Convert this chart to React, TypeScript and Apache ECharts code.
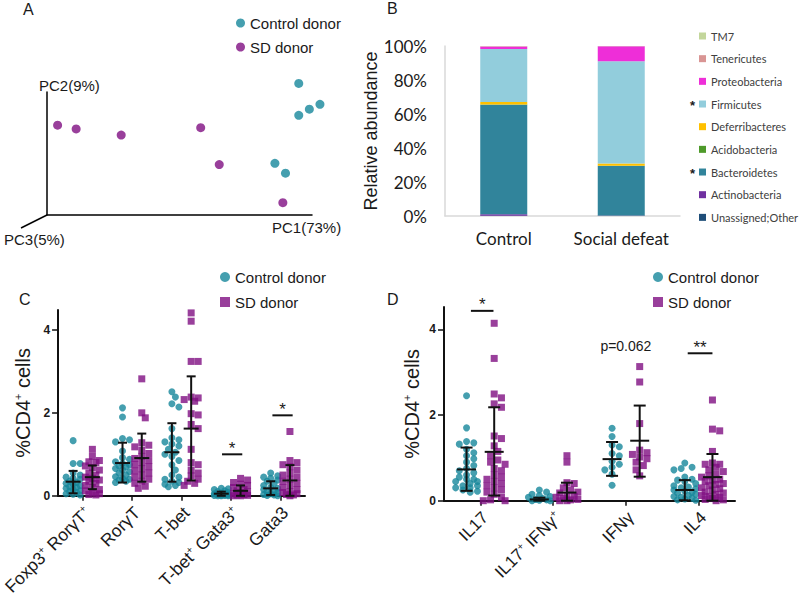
import React, { useEffect, useRef } from "react";
import * as echarts from "echarts";

// ---------------- Panel A : PCoA scores ----------------
const pcaControl: [number, number][] = [
  [0.95, 1.07], [1.03, 0.9], [0.99, 0.86], [0.95, 0.81], [0.86, 0.42], [0.9, 0.34],
];
const pcaSD: [number, number][] = [
  [0.04, 0.73], [0.11, 0.7], [0.28, 0.65], [0.58, 0.71], [0.65, 0.41], [0.89, 0.1],
];
const pcAxisLabels = ["PC1(73%)", "PC2(9%)", "PC3(5%)"];

// ---------------- Panel B : relative abundance ----------------
const groupsB = ["Control", "Social defeat"];
const phyla = [
  "Unassigned;Other", "Actinobacteria", "Bacteroidetes", "Acidobacteria",
  "Deferribacteres", "Firmicutes", "Proteobacteria", "Tenericutes", "TM7",
];
const phylaColors = [
  "#1f4e79", "#7030a0", "#31849b", "#4e9a2a", "#ffc000", "#92cddc", "#ee2ed8", "#d99594", "#c3d69b",
];
const abundanceControl = [0.2, 0.8, 64.5, 0.1, 1.5, 31.2, 1.4, 0.2, 0.1];
const abundanceSD = [0.1, 0.2, 29.1, 0.1, 1.4, 60.1, 8.8, 0.1, 0.1];
const starredPhyla = ["Firmicutes", "Bacteroidetes"];

// ---------------- Panel C : transcription factors ----------------
const catsC = ["Foxp3+ RorγT+", "RorγT", "T-bet", "T-bet+ Gata3+", "Gata3"];
const ctrlC: number[][] = [
  [1.33, 0.78, 0.78, 0.55, 0.5, 0.45, 0.42, 0.4, 0.35, 0.32, 0.3, 0.28, 0.25, 0.22, 0.2, 0.18, 0.15, 0.12, 0.1, 0.08, 0.05, 0.04, 0.02],
  [2.12, 1.9, 1.38, 1.35, 1.3, 1.08, 0.92, 0.88, 0.82, 0.78, 0.75, 0.72, 0.7, 0.66, 0.62, 0.58, 0.55, 0.5, 0.46, 0.42, 0.4, 0.38, 0.35, 0.32],
  [2.51, 2.38, 2.22, 2.14, 1.62, 1.4, 1.35, 1.3, 1.25, 1.2, 1.12, 1.05, 1.0, 0.95, 0.85, 0.75, 0.62, 0.5, 0.45, 0.4, 0.35, 0.32, 0.28, 0.25, 0.22],
  [0.18, 0.17, 0.15, 0.12, 0.1, 0.08, 0.06, 0.05, 0.04, 0.03, 0.02, 0.02, 0.01, 0.01, 0.0, 0.0, 0.0],
  [0.55, 0.48, 0.45, 0.42, 0.38, 0.35, 0.3, 0.25, 0.2, 0.18, 0.15, 0.12, 0.1, 0.08, 0.05, 0.03, 0.02, 0.01, 0.0],
];
const sdC: number[][] = [
  [1.12, 0.95, 0.85, 0.82, 0.8, 0.72, 0.68, 0.62, 0.55, 0.5, 0.45, 0.42, 0.38, 0.35, 0.3, 0.25, 0.2, 0.15, 0.12, 0.08, 0.05, 0.03, 0.02],
  [2.82, 2.0, 1.88, 1.28, 1.22, 1.18, 1.1, 1.02, 0.95, 0.9, 0.85, 0.8, 0.75, 0.7, 0.65, 0.6, 0.55, 0.5, 0.45, 0.4, 0.35, 0.3, 0.23, 0.18],
  [4.41, 4.21, 3.24, 3.24, 2.38, 2.36, 2.32, 2.28, 1.98, 1.95, 1.72, 1.62, 1.12, 0.8, 0.75, 0.62, 0.55, 0.48, 0.4, 0.35, 0.3, 0.25],
  [0.42, 0.38, 0.32, 0.28, 0.25, 0.2, 0.15, 0.12, 0.1, 0.08, 0.05, 0.03, 0.02, 0.01, 0.0, 0.0],
  [1.55, 0.85, 0.8, 0.75, 0.7, 0.62, 0.55, 0.5, 0.45, 0.4, 0.35, 0.3, 0.25, 0.2, 0.15, 0.1, 0.08, 0.05, 0.03, 0.02, 0.0],
];
// [low, mean, high] (mean ± SD)
const ctrlStatsC = [[0.06, 0.34, 0.6], [0.32, 0.79, 1.28], [0.34, 1.05, 1.75], [0.0, 0.05, 0.1], [0.02, 0.18, 0.35]];
const sdStatsC = [[0.16, 0.45, 0.73], [0.34, 0.91, 1.5], [0.37, 1.62, 2.88], [0.0, 0.12, 0.25], [0.0, 0.37, 0.74]];
const sigC = [
  { from: 2.82, to: 3.23, y: 1.0, label: "*" },
  { from: 3.84, to: 4.25, y: 1.94, label: "*" },
];

// ---------------- Panel D : cytokines ----------------
const catsD = ["IL17", "IL17+ IFNγ+", "IFNγ", "IL4"];
const ctrlD: number[][] = [
  [2.45, 1.7, 1.38, 1.35, 1.32, 1.2, 1.12, 1.05, 0.98, 0.9, 0.82, 0.75, 0.7, 0.65, 0.6, 0.55, 0.5, 0.5, 0.45, 0.45, 0.4, 0.35, 0.35, 0.3, 0.3, 0.25, 0.22, 0.2],
  [0.25, 0.2, 0.15, 0.12, 0.1, 0.08, 0.05, 0.03, 0.02, 0.01, 0.0, 0.0],
  [1.69, 1.5, 1.3, 1.26, 1.1, 1.05, 0.92, 0.85, 0.78, 0.72, 0.62, 0.36],
  [0.88, 0.78, 0.75, 0.72, 0.55, 0.5, 0.48, 0.45, 0.4, 0.35, 0.32, 0.3, 0.28, 0.25, 0.22, 0.2, 0.18, 0.15, 0.12, 0.1, 0.08, 0.06, 0.04, 0.02, 0.01],
];
const sdD: number[][] = [
  [4.14, 3.32, 2.49, 2.4, 2.26, 2.18, 1.51, 1.45, 1.28, 1.15, 1.05, 0.95, 0.9, 0.85, 0.75, 0.7, 0.6, 0.55, 0.5, 0.45, 0.4, 0.35, 0.3, 0.25, 0.2, 0.15, 0.08, 0.02, 0.0, 0.0],
  [1.05, 0.9, 0.42, 0.4, 0.3, 0.25, 0.2, 0.18, 0.12, 0.1, 0.08, 0.05, 0.03, 0.02, 0.0, 0.0],
  [3.13, 2.77, 1.8, 1.18, 1.12, 1.08, 1.02, 0.98, 0.9, 0.82, 0.72, 0.58],
  [2.35, 1.67, 1.63, 1.15, 0.88, 0.85, 0.85, 0.78, 0.72, 0.68, 0.62, 0.58, 0.55, 0.5, 0.48, 0.45, 0.4, 0.38, 0.35, 0.3, 0.28, 0.25, 0.2, 0.18, 0.15, 0.12, 0.1, 0.08, 0.05, 0.03, 0.02, 0.0],
];
const ctrlStatsD = [[0.23, 0.73, 1.24], [0.0, 0.03, 0.07], [0.58, 0.97, 1.37], [0.01, 0.25, 0.48]];
const sdStatsD = [[0.12, 1.14, 2.18], [0.0, 0.19, 0.42], [0.56, 1.4, 2.22], [0.0, 0.55, 1.09]];
const sigD = [
  { from: -0.13, to: 0.18, y: 4.43, label: "*" },
  { from: 2, to: 2, y: 3.47, label: "p=0.062" },
  { from: 2.85, to: 3.19, y: 3.44, label: "**" },
];
const yTicksCD = [0, 2, 4];

// ---------------- styling ----------------
const FONT = "'Liberation Sans', Arial, sans-serif";
const FONT_B = "Lato, 'Liberation Sans', sans-serif";
const TEAL = "#16879b";
const PURPLE = "#7f0f82";
const INK = "#1a1a1a";

// beeswarm-like horizontal spread (layout only, values untouched)
function swarmOffsets(vals: number[], pxPerY: number, diam: number, maxHalf: number): number[] {
  const idx = vals.map((_, i) => i).sort((a, b) => vals[b] - vals[a]);
  const placed: { x: number; y: number }[] = [];
  const out = new Array(vals.length).fill(0);
  const step = diam * 0.55;
  for (const i of idx) {
    const y = vals[i] * pxPerY;
    let bestX = 0;
    let bestD = -1;
    for (let k = 0; k < 60; k++) {
      const c = k === 0 ? 0 : (k % 2 ? 1 : -1) * Math.ceil(k / 2) * step;
      if (Math.abs(c) > maxHalf) break;
      let minD = Infinity;
      for (const p of placed) minD = Math.min(minD, Math.hypot(p.x - c, p.y - y));
      if (minD >= diam * 0.9) {
        bestX = c;
        break;
      }
      if (minD > bestD) {
        bestD = minD;
        bestX = c;
      }
    }
    placed.push({ x: bestX, y });
    out[i] = bestX;
  }
  return out;
}

function buildPoints(groups: number[][], side: number, pxPerY: number, pxPerCat: number, maxHalf: number) {
  const out: [number, number][] = [];
  groups.forEach((vals, g) => {
    const offs = swarmOffsets(vals, pxPerY, 6.6, maxHalf);
    vals.forEach((v, i) => out.push([g + side + offs[i] / pxPerCat, v]));
  });
  return out;
}

function errorSeries(stats: number[][], side: number, xIdx: number, yIdx: number, cap: number, meanW: number) {
  return {
    type: "custom",
    name: "sd",
    xAxisIndex: xIdx,
    yAxisIndex: yIdx,
    z: 5,
    silent: true,
    data: stats.map((s, g) => [g + side, s[0], s[1], s[2]]),
    renderItem: (_p: any, api: any) => {
      const x = api.value(0);
      const lo = api.coord([x, api.value(1)]);
      const m = api.coord([x, api.value(2)]);
      const hi = api.coord([x, api.value(3)]);
      const st = { stroke: "#111", lineWidth: 2 };
      return {
        type: "group",
        children: [
          { type: "line", shape: { x1: lo[0], y1: lo[1], x2: hi[0], y2: hi[1] }, style: st },
          { type: "line", shape: { x1: hi[0] - cap / 2, y1: hi[1], x2: hi[0] + cap / 2, y2: hi[1] }, style: st },
          { type: "line", shape: { x1: lo[0] - cap / 2, y1: lo[1], x2: lo[0] + cap / 2, y2: lo[1] }, style: st },
          { type: "line", shape: { x1: m[0] - meanW / 2, y1: m[1], x2: m[0] + meanW / 2, y2: m[1] }, style: st },
        ],
      };
    },
  };
}

function sigSeries(items: { from: number; to: number; y: number; label: string }[], xIdx: number, yIdx: number) {
  return {
    type: "custom",
    name: "sig",
    xAxisIndex: xIdx,
    yAxisIndex: yIdx,
    z: 6,
    silent: true,
    data: items.map((s) => [s.from, s.to, s.y]),
    renderItem: (p: any, api: any) => {
      const it = items[p.dataIndex];
      const a = api.coord([api.value(0), api.value(2)]);
      const b = api.coord([api.value(1), api.value(2)]);
      const isStar = it.label.indexOf("*") >= 0;
      const children: any[] = [];
      if (b[0] - a[0] > 1) {
        children.push({ type: "line", shape: { x1: a[0], y1: a[1], x2: b[0], y2: b[1] }, style: { stroke: "#111", lineWidth: 2 } });
      }
      children.push({
        type: "text",
        x: (a[0] + b[0]) / 2,
        y: a[1] - 6,
        style: {
          text: it.label,
          align: "center",
          verticalAlign: "middle",
          fontSize: isStar ? 17 : 14,
          fontFamily: FONT,
          fill: INK,
        },
      });
      return { type: "group", children };
    },
  };
}

const supFormatter = (v: string) => v.replace(/\+/g, "{s|+}");

export default function App() {
  const ref = useRef<HTMLDivElement>(null);
  useEffect(() => {
    if (!ref.current) return;
    const chart = echarts.init(ref.current, null, { renderer: "svg" });

    const pxYC = 42.75;
    const pxCatC = 51.2;
    const pxYD = 42.85;
    const pxCatD = 72.75;
    const sideC = 0.195;
    const sideD = 0.19;

    const cdYAxis = (grid: number, max: number, gap: number) => ({
      gridIndex: grid,
      type: "value",
      min: 0,
      max,
      axisLine: { show: true, onZero: false, lineStyle: { color: "#111", width: 2 } },
      axisTick: { show: true, length: 6, customValues: yTicksCD, lineStyle: { color: "#111", width: 1.5 } },
      axisLabel: { customValues: yTicksCD, fontFamily: FONT, fontSize: 12, fontWeight: "bold", color: INK, margin: 8 },
      splitLine: { show: false },
      name: "%CD4{s|+} cells",
      nameLocation: "middle",
      nameGap: gap,
      nameTextStyle: {
        fontFamily: FONT,
        fontSize: 20,
        color: INK,
        rich: { s: { fontFamily: FONT, fontSize: 11, color: INK, padding: [0, 0, 10, 0] } },
      },
    });

    const catAxis = (grid: number, data: string[], fs: number) => ({
      gridIndex: grid,
      type: "category",
      data,
      axisLine: { show: true, onZero: false, lineStyle: { color: "#111", width: 2 } },
      axisTick: { show: true, alignWithLabel: true, length: 5, lineStyle: { color: "#111", width: 1.5 } },
      axisLabel: {
        rotate: 45,
        interval: 0,
        margin: 9,
        fontFamily: FONT,
        fontSize: fs,
        color: INK,
        padding: [14, 0, 0, 0],
        formatter: supFormatter,
        rich: { s: { fontFamily: FONT, fontSize: 10, color: INK, padding: [0, 0, 9, 0] } },
      },
    });

    const hiddenValX = (grid: number, min: number, max: number) => ({
      gridIndex: grid,
      type: "value",
      min,
      max,
      show: false,
    });

    const legendText = { fontFamily: FONT, fontSize: 15, color: INK, lineHeight: 16 };

    const option: any = {
      animation: false,
      backgroundColor: "#ffffff",
      grid: [
        { left: 47, top: 92, width: 265, height: 123 },
        { left: 445, top: 46, width: 235, height: 170 },
        { left: 49, top: 310, width: 256, height: 191.7 },
        { left: 444, top: 307, width: 291, height: 193.7 },
      ],
      legend: [
        {
          data: [
            { name: "Control donor", icon: "circle" },
            { name: "SD donor", icon: "circle" },
          ],
          orient: "vertical",
          left: 236,
          top: 15,
          padding: 0,
          itemWidth: 9,
          itemHeight: 9,
          itemGap: 8,
          selectedMode: false,
          textStyle: legendText,
        },
        {
          data: phyla.slice().reverse().map((n) => ({ name: n, icon: "rect" })),
          orient: "vertical",
          left: 699,
          top: 29.5,
          padding: 0,
          itemWidth: 7,
          itemHeight: 7,
          itemGap: 9.67,
          selectedMode: false,
          textStyle: { fontFamily: FONT_B, fontSize: 11, color: "#404040", lineHeight: 13 },
        },
        {
          data: [
            { name: "Control donor", icon: "circle" },
            { name: "SD donor", icon: "rect" },
          ],
          orient: "vertical",
          left: 220,
          top: 269,
          padding: 0,
          itemWidth: 10,
          itemHeight: 10,
          itemGap: 9,
          selectedMode: false,
          textStyle: legendText,
        },
        {
          data: [
            { name: "Control donor", icon: "circle" },
            { name: "SD donor", icon: "rect" },
          ],
          orient: "vertical",
          left: 653,
          top: 269,
          padding: 0,
          itemWidth: 10,
          itemHeight: 10,
          itemGap: 9,
          selectedMode: false,
          textStyle: legendText,
        },
      ],
      xAxis: [
        {
          gridIndex: 0,
          type: "value",
          min: 0,
          max: 1,
          axisLine: { show: true, onZero: false, lineStyle: { color: "#000", width: 1.5 } },
          axisTick: { show: false },
          axisLabel: { show: false },
          splitLine: { show: false },
        },
        {
          gridIndex: 1,
          type: "category",
          data: groupsB,
          axisLine: { show: true, lineStyle: { color: "#d9d9d9", width: 1.5 } },
          axisTick: { show: false },
          axisLabel: { interval: 0, fontFamily: FONT_B, fontSize: 17, color: INK, margin: 14 },
        },
        catAxis(2, catsC, 17.5),
        hiddenValX(2, -0.5, 4.5),
        catAxis(3, catsD, 17),
        hiddenValX(3, -0.5, 3.5),
      ],
      yAxis: [
        {
          gridIndex: 0,
          type: "value",
          min: 0,
          max: 1,
          axisLine: { show: true, onZero: false, lineStyle: { color: "#000", width: 1.5 } },
          axisTick: { show: false },
          axisLabel: { show: false },
          splitLine: { show: false },
        },
        {
          gridIndex: 1,
          type: "value",
          min: 0,
          max: 100,
          interval: 20,
          axisLine: { show: true, lineStyle: { color: "#d9d9d9", width: 1.5 } },
          axisTick: { show: false },
          splitLine: { show: false },
          axisLabel: { formatter: "{value}%", fontFamily: FONT_B, fontSize: 17, color: INK, margin: 18 },
          name: "Relative abundance",
          nameLocation: "middle",
          nameGap: 43,
          nameTextStyle: { fontFamily: FONT, fontSize: 18, color: INK },
        },
        cdYAxis(2, 4.48, 25),
        cdYAxis(3, 4.52, 22),
      ],
      series: [
        // Panel A
        {
          type: "scatter",
          name: "Control donor",
          xAxisIndex: 0,
          yAxisIndex: 0,
          clip: false,
          symbol: "circle",
          symbolSize: 9,
          itemStyle: { color: TEAL },
          data: pcaControl,
        },
        {
          type: "scatter",
          name: "SD donor",
          xAxisIndex: 0,
          yAxisIndex: 0,
          clip: false,
          symbol: "circle",
          symbolSize: 9,
          itemStyle: { color: PURPLE },
          data: pcaSD,
        },
        // Panel B
        ...phyla.map((p, i) => ({
          type: "bar",
          name: p,
          stack: "abund",
          xAxisIndex: 1,
          yAxisIndex: 1,
          barWidth: 47,
          itemStyle: { color: phylaColors[i] },
          data: [abundanceControl[i], abundanceSD[i]],
        })),
        // Panel C
        {
          type: "scatter",
          name: "Control donor",
          xAxisIndex: 3,
          yAxisIndex: 2,
          symbol: "circle",
          symbolSize: 7,
          z: 3,
          itemStyle: { color: TEAL },
          data: buildPoints(ctrlC, -sideC, pxYC, pxCatC, 9),
        },
        {
          type: "scatter",
          name: "SD donor",
          xAxisIndex: 3,
          yAxisIndex: 2,
          symbol: "rect",
          symbolSize: 7,
          z: 3,
          itemStyle: { color: PURPLE },
          data: buildPoints(sdC, sideC, pxYC, pxCatC, 9),
        },
        errorSeries(ctrlStatsC, -sideC, 3, 2, 9, 15),
        errorSeries(sdStatsC, sideC, 3, 2, 9, 15),
        sigSeries(sigC, 3, 2),
        // Panel D
        {
          type: "scatter",
          name: "Control donor",
          xAxisIndex: 5,
          yAxisIndex: 3,
          symbol: "circle",
          symbolSize: 7,
          z: 3,
          itemStyle: { color: TEAL },
          data: buildPoints(ctrlD, -sideD, pxYD, pxCatD, 11),
        },
        {
          type: "scatter",
          name: "SD donor",
          xAxisIndex: 5,
          yAxisIndex: 3,
          symbol: "rect",
          symbolSize: 7,
          z: 3,
          itemStyle: { color: PURPLE },
          data: buildPoints(sdD, sideD, pxYD, pxCatD, 11),
        },
        errorSeries(ctrlStatsD, -sideD, 5, 3, 12, 19),
        errorSeries(sdStatsD, sideD, 5, 3, 12, 19),
        sigSeries(sigD, 5, 3),
      ],
      graphic: [
        // panel letters
        { type: "text", left: 23, top: 1, style: { text: "A", fontFamily: FONT, fontSize: 16, fill: INK } },
        { type: "text", left: 387, top: 0, style: { text: "B", fontFamily: FONT, fontSize: 16, fill: INK } },
        { type: "text", left: 19, top: 291, style: { text: "C", fontFamily: FONT, fontSize: 16, fill: INK } },
        { type: "text", left: 387, top: 291, style: { text: "D", fontFamily: FONT, fontSize: 16, fill: INK } },
        // panel A third axis and axis titles
        { type: "line", shape: { x1: 47, y1: 215, x2: 21, y2: 228 }, style: { stroke: "#000", lineWidth: 1.5 } },
        { type: "text", left: 39, top: 78, style: { text: pcAxisLabels[1], fontFamily: FONT, fontSize: 15, fill: INK } },
        { type: "text", left: 272, top: 220, style: { text: pcAxisLabels[0], fontFamily: FONT, fontSize: 15, fill: INK } },
        { type: "text", left: 4, top: 232, style: { text: pcAxisLabels[2], fontFamily: FONT, fontSize: 15, fill: INK } },
        // panel B significance stars on legend
        ...starredPhyla.map((n) => ({
          type: "text",
          left: 690,
          top: 31 + (phyla.length - 1 - phyla.indexOf(n)) * 22.67,
          style: { text: "*", fontFamily: FONT, fontSize: 13, fontWeight: "bold", fill: INK },
        })),
      ],
    };

    chart.setOption(option);
    return () => chart.dispose();
  }, []);

  return (
    <div
      ref={ref}
      style={{ position: "fixed", left: 0, top: 0, width: 800, height: 598, background: "#fff" }}
    />
  );
}
